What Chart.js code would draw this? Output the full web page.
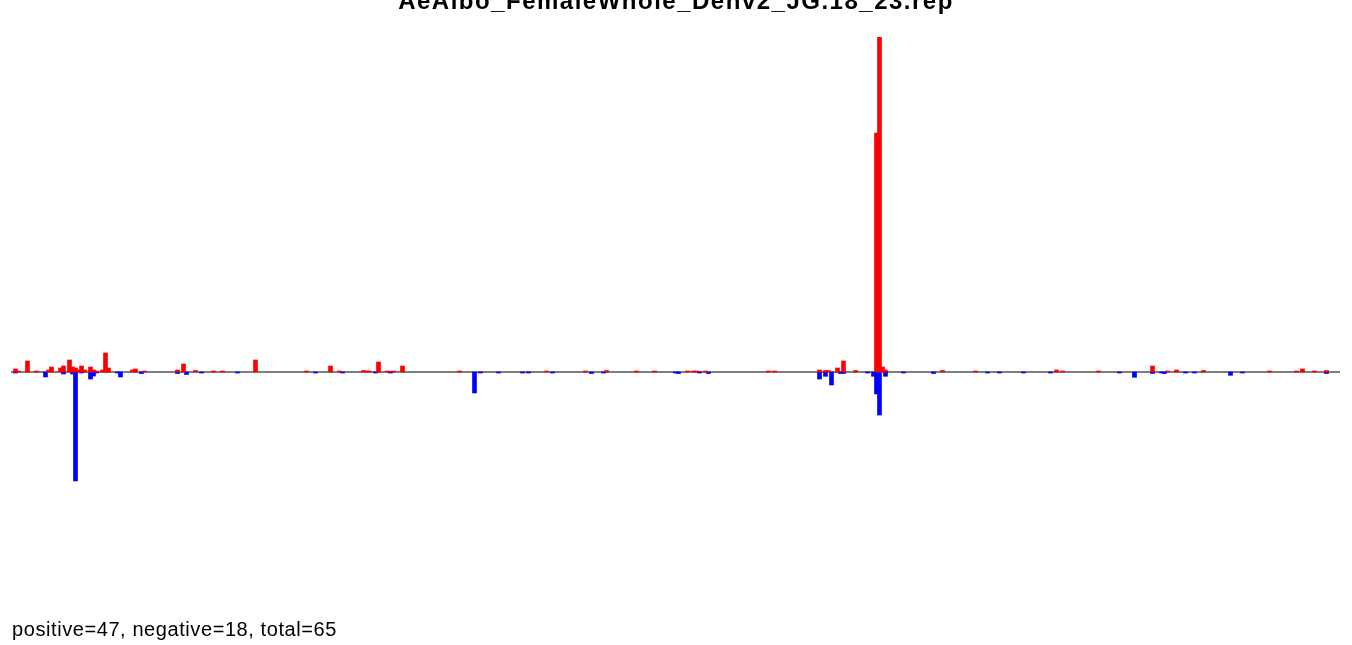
<!DOCTYPE html>
<html lang="en">
<head>
    <meta charset="UTF-8">
    <title>AeAlbo_FemaleWhole_Denv2_JG.18_23.rep</title>
    <script src="https://cdn.jsdelivr.net/npm/chart.js"></script>
    <style>
        body { margin: 0; background: #fff; }
        #wrap { position: relative; width: 1352px; height: 645px; overflow: hidden; }
        #myChart { position: absolute; left: 0; top: 0; }
        .txt { position: absolute; font-family: "Liberation Sans", Arial, sans-serif; line-height: 1; white-space: nowrap; color: #000; }
        #title { left: 0; width: 1352px; text-align: center; top: -11px; font-size: 24px; font-weight: bold; letter-spacing: 1.5px; }
        #footer { left: 12px; top: 619px; font-size: 20px; letter-spacing: 0.58px; }
    </style>
</head>
<body>
<div id="wrap">
    <canvas id="myChart" width="1352" height="645"></canvas>
    <div id="title" class="txt">AeAlbo_FemaleWhole_Denv2_JG.18_23.rep</div>
    <div id="footer" class="txt">positive=47, negative=18, total=65</div>
</div>

<script>
    // bin positions along the sequence and read heights
    var posBins = [1, 2, 5, 8, 12, 13, 16, 17, 19, 20, 21, 22, 23, 24, 26, 27, 28, 30, 31, 32,
                   40, 41, 44, 55, 57, 61, 67, 70, 81, 98, 106, 109, 117, 118, 119, 122, 125, 127, 130,
                   149, 178, 191, 198, 208, 214, 225, 227, 228, 231, 252, 254,
                   269, 271, 272, 275, 277, 281, 288, 289, 290, 291,
                   310, 321, 348, 350, 362, 380, 385, 388, 397, 419, 428, 430, 434, 438];
    var posVals = [3, 1, 11, 1, 2, 5, 4, 6, 12, 5, 4, 2, 6, 2, 5, 2, 1, 2, 19, 4,
                   2, 3, 1, 2, 8, 1.5, 1, 1, 12, 1, 6, 1, 1.5, 1, 1, 10, 1, 1, 6,
                   1, 1, 1, 1.5, 1, 1, 1, 1, 1, 1, 1, 1,
                   2, 1.5, 1.5, 4, 11, 1.5, 239, 335, 5, 2,
                   1.5, 1, 2, 1, 1, 6, 1, 2, 1.5, 1, 1, 3, 1, 1.5];

    var negBins = [1, 11, 17, 20, 21, 23, 26, 27, 28, 35, 36, 43, 55, 58, 63, 75, 101, 110, 121, 126,
                   154, 156, 162, 170, 172, 180, 193, 197, 221, 222, 229, 232,
                   269, 271, 273, 276, 277, 285, 287, 288, 289, 291, 297,
                   307, 325, 329, 337, 346, 369, 374, 380, 383, 384, 391, 394, 406, 410, 438];
    var negVals = [1, 5, 2, 2, 109, 1, 7, 4, 1, 1, 5, 1.5, 1.5, 2.5, 1, 1, 1, 1, 1, 1,
                   21, 1, 1, 1, 1, 1, 1.5, 1, 1, 1.5, 1, 1.5,
                   7, 4.3, 13, 1.5, 1.5, 1, 4.3, 22, 43, 4.3, 1,
                   1.5, 1, 1, 1, 1, 1, 5.3, 1.5, 1, 1.5, 1, 1, 3.3, 1, 1.5];

    var posData = posBins.map(function (b, i) { return { x: b, y: posVals[i] }; });
    var negData = negBins.map(function (b, i) { return { x: b, y: -negVals[i] }; });

    // grey zero line under the bars
    var baseLine = {
        id: 'baseLine',
        beforeDatasetsDraw: function (chart) {
            var ctx = chart.ctx, a = chart.chartArea;
            var y = chart.scales.y.getPixelForValue(0);
            ctx.save();
            ctx.strokeStyle = '#555555';
            ctx.lineWidth = 1.5;
            ctx.beginPath();
            ctx.moveTo(a.left, y);
            ctx.lineTo(a.right, y);
            ctx.stroke();
            ctx.restore();
        }
    };

    var ctx = document.getElementById('myChart').getContext('2d');
    var myChart = new Chart(ctx, {
        type: 'bar',
        data: {
            datasets: [{
                label: 'positive',
                data: posData,
                backgroundColor: '#FF0000',
                borderWidth: 0
            }, {
                label: 'negative',
                data: negData,
                backgroundColor: '#0000FF',
                borderWidth: 0
            }]
        },
        options: {
            responsive: false,
            animation: false,
            devicePixelRatio: 1,
            grouped: false,
            barThickness: 4,
            layout: { padding: { top: 37, bottom: 45, left: 11, right: 12 } },
            plugins: { legend: { display: false }, tooltip: { enabled: false } },
            scales: {
                x: { type: 'linear', min: -0.5, max: 442.5, offset: false, display: false },
                y: { min: -228, max: 335, display: false }
            }
        },
        plugins: [baseLine]
    });
</script>
</body>
</html>
